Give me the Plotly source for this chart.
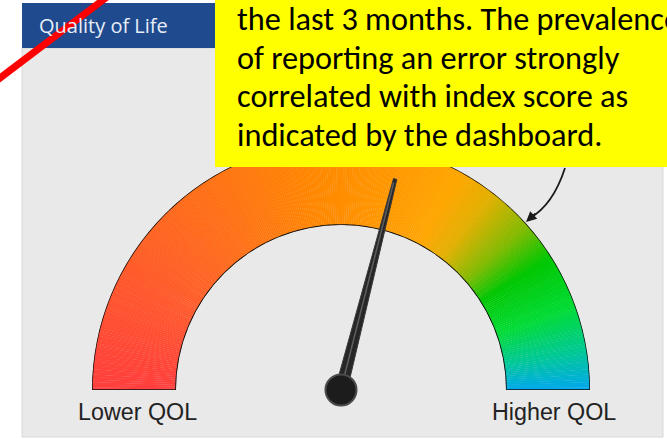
import numpy as np
import plotly.graph_objects as go

# ---------------- data ----------------
gauge_min = 0
gauge_max = 100
gauge_value = 58
end_labels = ["Lower QOL", "Higher QOL"]
panel_title = "Quality of Life"
callout_lines = [
    "the last 3 months. The prevalence",
    "of reporting an error strongly",
    "correlated with index score as",
    "indicated by the dashboard.",
]

# ---------------- layout helpers ----------------
W, H = 667, 439
CX, CY, R_OUT, R_IN = 341, 390, 249, 165


def fx(x):
    return x / W


def fy(y):
    return 1 - y / H


def val_to_theta(v):
    return 180.0 * (1 - (v - gauge_min) / (gauge_max - gauge_min))


# gradient colour stops along the gauge (fraction of range)
stops = [
    (0.00, (255, 62, 62)),
    (0.12, (255, 84, 48)),
    (0.25, (255, 104, 32)),
    (0.36, (255, 120, 16)),
    (0.46, (255, 136, 0)),
    (0.56, (255, 150, 0)),
    (0.66, (255, 166, 0)),
    (0.71, (226, 176, 0)),
    (0.77, (130, 186, 0)),
    (0.82, (0, 198, 0)),
    (0.89, (0, 220, 52)),
    (0.95, (0, 200, 150)),
    (1.00, (0, 168, 238)),
]


def grad(f):
    for (a, ca), (b, cb) in zip(stops[:-1], stops[1:]):
        if a <= f <= b:
            t = (f - a) / (b - a) if b > a else 0
            c = [round(ca[i] + (cb[i] - ca[i]) * t) for i in range(3)]
            return "rgb(%d,%d,%d)" % tuple(c)
    return "rgb(%d,%d,%d)" % stops[-1][1]


N = 300
seg_vals = np.linspace(gauge_min, gauge_max, N + 1)
seg_mid = (seg_vals[:-1] + seg_vals[1:]) / 2
seg_theta = [val_to_theta(v) for v in seg_mid]
seg_width = 180.0 / N * 1.15
seg_colors = [grad((v - gauge_min) / (gauge_max - gauge_min)) for v in seg_mid]

fig = go.Figure()

# gauge coloured band
fig.add_trace(go.Barpolar(
    r=[1] * N, theta=seg_theta, width=[seg_width] * N,
    marker=dict(color=seg_colors, line=dict(width=0)),
    subplot="polar", hoverinfo="skip", showlegend=False,
))

# band outline
th_outer = list(np.linspace(val_to_theta(gauge_max), val_to_theta(gauge_min), 200))
outline_theta = th_outer + [180, 180] + th_outer[::-1] + [0, 0]
outline_r = [1] * 200 + [1, 0] + [0] * 200 + [0, 1]
fig.add_trace(go.Scatterpolar(
    r=outline_r, theta=outline_theta, mode="lines",
    line=dict(color="#111111", width=1.6),
    subplot="polar", hoverinfo="skip", showlegend=False,
))

# needle
nt = val_to_theta(gauge_value)
needle_r = [0.875, 0.875, 0.024, 0.0, 0.024, 0.875]
needle_t = [nt - 0.45, nt + 0.45, nt + 90, nt, nt - 90, nt - 0.45]
fig.add_trace(go.Scatterpolar(
    r=needle_r, theta=needle_t, mode="lines", fill="toself",
    fillcolor="#262626", line=dict(color="#3a3a3a", width=1),
    subplot="polar2", hoverinfo="skip", showlegend=False,
))
fig.add_trace(go.Scatterpolar(
    r=[0.06, 0.86], theta=[nt + 0.9, nt + 0.15], mode="lines",
    line=dict(color="#5e5e5e", width=1.5),
    subplot="polar2", hoverinfo="skip", showlegend=False,
))
# pivot
fig.add_trace(go.Scatterpolar(
    r=[0], theta=[nt], mode="markers",
    marker=dict(size=31, color="#1c1c1c", line=dict(color="#4a4a4a", width=2)),
    subplot="polar2", hoverinfo="skip", showlegend=False,
))

dom_x = [fx(CX - R_OUT), fx(CX + R_OUT)]
dom_y = [fy(CY), fy(CY - R_OUT)]
ang = dict(visible=False, showgrid=False, showline=False, showticklabels=False, ticks="")
rad = dict(visible=False, range=[0, 1], showgrid=False, showline=False, showticklabels=False, ticks="")

shapes = [
    # panel
    dict(type="rect", xref="paper", yref="paper", x0=fx(22), x1=fx(663), y0=fy(437), y1=fy(48),
         fillcolor="#e9e9e9", line=dict(color="#d8d8d8", width=1), layer="below"),
    # header
    dict(type="rect", xref="paper", yref="paper", x0=fx(22), x1=fx(216), y0=fy(48), y1=fy(3),
         fillcolor="#1f4a8e", line=dict(width=0), layer="below"),
    # yellow callout
    dict(type="rect", xref="paper", yref="paper", x0=fx(215), x1=fx(672), y0=fy(167), y1=fy(-5),
         fillcolor="#ffff00", line=dict(width=0), layer="above"),
    # curved arrow
    dict(type="path", xref="paper", yref="paper",
         path="M %f %f Q %f %f %f %f" % (fx(565), fy(168), fx(553), fy(205), fx(530), fy(218)),
         line=dict(color="#1a1a1a", width=1.8), layer="above"),
    # red strike line
    dict(type="line", xref="paper", yref="paper", x0=fx(-5), y0=fy(81.8), x1=fx(108), y1=fy(-3.8),
         line=dict(color="#ff0000", width=7), layer="above"),
]

annotations = [
    dict(x=fx(37), y=fy(25), xref="paper", yref="paper", xanchor="left", yanchor="middle",
         text=panel_title, showarrow=False, font=dict(family="Open Sans", size=20, color="#e8eef8")),
    dict(x=fx(137), y=fy(412), xref="paper", yref="paper", xanchor="center", yanchor="middle",
         text=end_labels[0], showarrow=False, font=dict(family="Liberation Sans", size=23.3, color="#222222")),
    dict(x=fx(554), y=fy(412), xref="paper", yref="paper", xanchor="center", yanchor="middle",
         text=end_labels[1], showarrow=False, font=dict(family="Liberation Sans", size=23.3, color="#222222")),
    dict(x=fx(526), y=fy(222), xref="paper", yref="paper", ax=11, ay=-10, text="",
         showarrow=True, arrowhead=2, arrowsize=1.3, arrowwidth=1.6, arrowcolor="#1a1a1a"),
]
line_y = [19, 57.5, 96, 134.5]
for txt, yy in zip(callout_lines, line_y):
    annotations.append(dict(x=fx(235), y=fy(yy), xref="paper", yref="paper", xanchor="left",
                            yanchor="middle", text=txt, showarrow=False,
                            font=dict(family="Carlito, Lato", size=32.3, color="#000000")))

fig.update_layout(
    width=W, height=H, margin=dict(l=0, r=0, t=0, b=0),
    paper_bgcolor="white", plot_bgcolor="white",
    polar=dict(domain=dict(x=dom_x, y=dom_y), sector=[0, 180], hole=R_IN / R_OUT,
               bgcolor="rgba(0,0,0,0)", angularaxis=ang, radialaxis=rad, bargap=0),
    polar2=dict(domain=dict(x=dom_x, y=dom_y), sector=[0, 180], hole=0,
                bgcolor="rgba(0,0,0,0)", angularaxis=ang, radialaxis=rad),
    shapes=shapes, annotations=annotations, showlegend=False,
)

fig.write_html("out.html", config={"displayModeBar": False},
               post_script="document.body.style.margin='0';document.body.style.overflow='hidden';")
